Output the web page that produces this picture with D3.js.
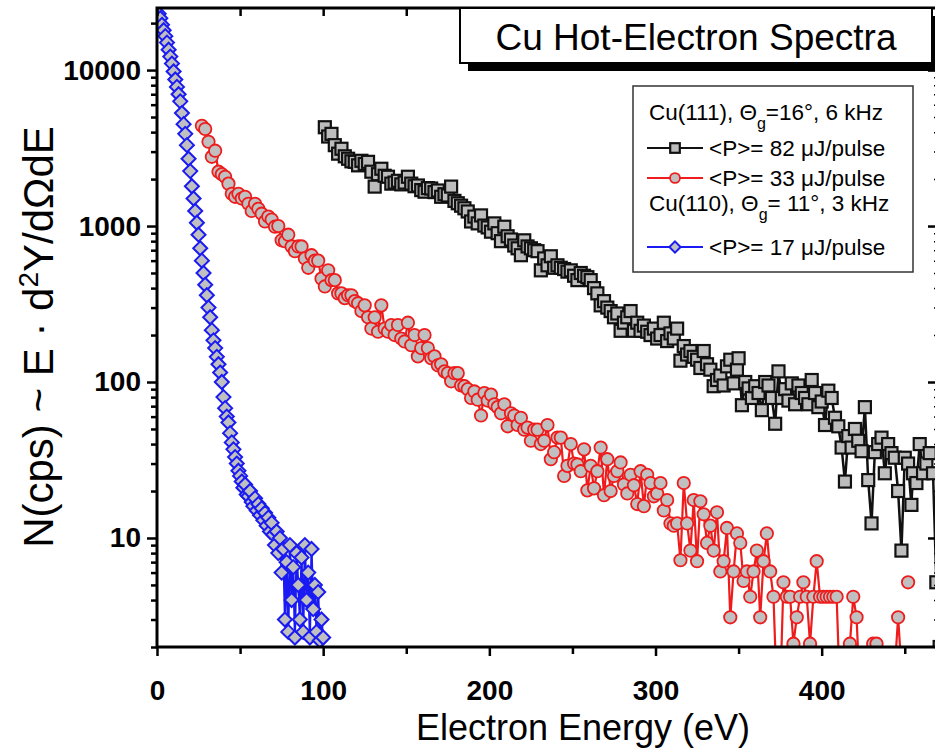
<!DOCTYPE html>
<html>
<head>
<meta charset="utf-8">
<script src="https://cdn.jsdelivr.net/npm/d3@7"></script>
<style>
body { margin: 0; background: #fff; }
svg { display: block; font-family: "Liberation Sans", Arial, sans-serif; }
</style>
</head>
<body>
<div id="chart"></div>
<script>
// Cu(110), 17 uJ/pulse  [energy eV, counts]
var cu110_17uJ = [[1,23000],[2,21500],[3,19500],[4,18000],[5,16500],[6,15000],[7,13500],[8,12200],[9,11000],[10,9800],
	[11,8700],[12,7800],[13,7000],[14,6300],[15,5300],[16,4500],[17,3900],[18,3300],[19,2700],[20,2250],
	[21,1800],[22,1500],[23,1250],[24,1050],[25,880],[26,720],[27,600],[28,500],[29,420],[30,360],
	[31,300],[32,260],[33,215],[34,185],[35,165],[36,145],[37,130],[38,115],[39,100],[40,80],
	[41,68],[42,60],[43,55],[44,47],[45,41],[46,37],[47,33],[48,30],[49,27],[50,25],
	[51,23],[52,21],[53,22],[54,19],[55,18.5],[56,20],[57,17],[58,16],[59,18],[60,15],
	[61,16.5],[62,14],[63,15.5],[64,13],[65,14.5],[66,12],[67,13.5],[68,11],[69,12.5],[70,10.5],
	[71,9],[72,11],[73,8],[74,10],[75,6],[76,8.5],[77,3],[78,7],[79,2.5],[80,9],
	[81,4],[82,6.5],[83,2.3],[84,8],[85,5],[86,3],[87,7.5],[88,2.5],[89,9],[90,4],
	[91,6],[92,2.3],[93,8.5],[94,3.5],[95,5],[96,2.5],[97,4.5],[98,2.2],[99,3],[100,2.3]];

// Cu(111), 33 uJ/pulse
var cu111_33uJ = [[27,4390],[29,4190],[31,3470],[33,2780],[35,3040],[37,2230],[39,2150],[41,2070],[43,1870],[45,1610],
	[47,1540],[49,1610],[51,1500],[53,1540],[55,1390],[57,1250],[59,1390],[61,1290],[63,1200],[65,1070],
	[67,1150],[69,1100],[71,990],[73,1000],[75,810],[77,800],[79,880],[81,740],[83,690],[85,740],
	[87,740],[89,620],[91,540],[93,650],[95,600],[97,600],[99,460],[101,410],[103,520],[105,450],
	[107,450],[109,370],[111,370],[113,345],[115,360],[117,360],[119,330],[121,320],[123,285],[125,310],
	[127,260],[129,220],[131,260],[133,210],[135,310],[137,220],[139,210],[141,232],[143,200],[145,232],
	[147,190],[149,182],[151,240],[153,172],[155,200],[157,146],[159,165],[161,200],[163,165],[165,142],
	[167,146],[169,128],[171,130],[173,117],[175,114],[177,101],[179,114],[181,114],[183,95],[185,94],
	[187,90],[189,79],[191,87],[193,77],[195,61],[197,85],[199,76],[201,83],[203,72],[205,69],
	[207,63],[209,72],[211,52],[213,63],[215,61],[217,53],[219,59],[221,49.5],[223,51],[225,42],
	[227,49.5],[229,49.5],[231,40],[233,42],[235,53],[237,32],[239,35.5],[241,44],[243,44],[245,25],
	[247,29],[249,40],[251,30],[253,29.6],[255,26.8],[257,37],[259,20.2],[261,29],[263,20.8],[265,26.8],
	[267,38],[269,18.8],[271,32],[273,20],[275,25],[277,26.8],[279,30.5],[281,22],[283,19.3],[285,25.4],
	[287,21.8],[289,16.5],[291,26.8],[293,16],[295,25.4],[297,22.5],[299,18.5],[301,19.3],[303,22.5],[305,15],
	[307,17.5],[309,12.4],[311,12],[313,12.4],[315,7.2],[317,22.5],[319,12.4],[321,8.3],[323,17.5],[325,7.1],
	[327,17.2],[329,14.2],[331,9.3],[333,12],[335,8.3],[337,14.6],[339,6.1],[341,7.1],[343,11.6],[345,3.1],
	[347,6.1],[349,10.7],[351,9.3],[353,5.3],[355,6.1],[357,4.2],[359,6.1],[361,8.3],[363,3.1],[365,7.1],
	[367,10.7],[369,6.1],[371,4.2],[373,1],[375,1],[377,5.2],[379,4.2],[381,4.2],[383,2.1],[385,3.1],
	[387,4.2],[389,5.2],[391,4.2],[393,2.1],[395,4.2],[397,7.1],[399,4.2],[401,4.2],[403,4.2],[405,4.2],
	[407,4.2],[409,4.2],[411,1],[413,1],[415,1],[417,2.1],[419,4.2],[421,3.1],[423,1],[425,1],
	[427,1],[429,1],[431,2.1],[433,2.1],[435,1],[437,1],[439,1],[441,1],[443,1],[446,3.1],
	[449,1],[450,0],[452,5.2]];

// Cu(111), 82 uJ/pulse
var cu111_82uJ = [[101,4300],[103,3750],[105,3900],[107,3300],[109,2910],[111,3130],[113,2800],[115,2700],[117,2600],[119,2580],
	[121,2450],[123,2620],[125,2500],[127,2580],[129,2230],[131,1790],[133,2150],[135,2330],[137,2100],[139,2070],
	[141,1870],[143,1900],[145,1950],[147,1850],[149,1900],[151,2070],[153,1870],[155,1800],[157,1820],[159,1700],
	[161,1660],[163,1750],[165,1740],[167,1650],[169,1690],[171,1540],[173,1600],[175,1570],[177,1790],[179,1450],
	[181,1400],[183,1350],[185,1300],[187,1240],[189,1070],[191,1150],[193,1040],[195,1170],[197,1007],[199,980],
	[201,920],[203,1040],[205,900],[207,800],[209,990],[211,860],[213,820],[215,750],[217,720],[219,650],
	[221,810],[223,740],[225,720],[227,700],[229,690],[231,520],[233,620],[235,560],[237,640],[239,540],
	[241,560],[243,540],[245,530],[247,510],[249,520],[251,480],[253,450],[255,500],[257,480],[259,470],
	[261,450],[263,400],[265,370],[267,310],[269,330],[271,300],[273,285],[275,260],[277,275],[279,213],
	[281,240],[283,260],[285,285],[287,213],[289,240],[291,213],[293,230],[295,210],[297,200],[299,220],
	[301,190],[303,200],[305,240],[307,183],[309,205],[311,190],[313,220],[315,137],[317,170],[319,150],
	[321,158],[323,145],[325,139],[327,123],[329,158],[331,130],[333,120],[335,94],[337,103],[339,110],
	[341,95],[343,126],[345,139],[347,98],[349,120],[350,142],[352,71],[354,100],[356,91],[358,79],
	[360,94],[362,85],[364,66],[366,100],[368,95],[370,79],[372,54],[374,117],[376,79],[378,90],
	[380,76],[382,98],[384,72],[386,95],[388,85],[390,79],[392,72],[394,103],[396,85],[398,69],
	[400,75],[402,53],[404,88],[406,79],[408,59],[410,52],[412,38],[414,23],[416,45],[418,38],
	[420,50],[422,42],[424,36],[426,69],[428,23.5],[430,12.4],[432,35.5],[434,40],[436,44],[438,26],
	[440,40],[442,35],[444,32.7],[446,20],[448,8.3],[450,32.7],[452,30],[454,16.3],[455,26],[457,22.5],
	[459,40],[461,26],[463,30],[465,35],[467,26],[469,5.2],[471,2]];

var xTicks = [0, 100, 200, 300, 400];
var xMinorTicks = [50, 150, 250, 350, 450];
var yTicks = [10, 100, 1000, 10000];

var W = 935, H = 749;
var plot = {left: 157, right: 938, top: 8, bottom: 647};

var svg = d3.select("#chart").append("svg")
	.attr("width", W)
	.attr("height", H);

var x = d3.scaleLinear().domain([0, 470]).range([plot.left, plot.right]);
var y = d3.scaleLog().domain([2, 25000]).range([plot.bottom, plot.top]);

svg.append("defs").append("clipPath")
	.attr("id", "clip")
	.append("rect")
	.attr("x", plot.left)
	.attr("y", plot.top)
	.attr("width", plot.right - plot.left)
	.attr("height", plot.bottom - plot.top);

var series = [
	{data: cu111_82uJ, color: "#111", shape: "square", width: 2.5, label: "<P>= 82 \u03bcJ/pulse"},
	{data: cu111_33uJ, color: "#ee1c1c", shape: "circle", width: 2.2, label: "<P>= 33 \u03bcJ/pulse"},
	{data: cu110_17uJ, color: "#1a1af2", shape: "diamond", width: 2.2, label: "<P>= 17 \u03bcJ/pulse"}
];

function drawMarker(g, shape, color, k) {
	k = k || 1;
	if (shape == "square") {
		g.append("rect").attr("x", -6 * k).attr("y", -6 * k).attr("width", 12 * k).attr("height", 12 * k)
			.attr("fill", "#bdbdbd").attr("stroke", color).attr("stroke-width", 2.2);
	} else if (shape == "circle") {
		g.append("circle").attr("r", 6.2 * k)
			.attr("fill", "#c0c0c0").attr("stroke", color).attr("stroke-width", 1.8);
	} else {
		var r = 7 * k;
		g.append("path").attr("d", "M0," + (-r) + "L" + r + ",0L0," + r + "L" + (-r) + ",0Z")
			.attr("fill", "#c0c0c0").attr("stroke", color).attr("stroke-width", 2);
	}
}

var dataLayer = svg.append("g").attr("clip-path", "url(#clip)");

var line = d3.line()
	.defined(function(d) { return d[1] > 0; })
	.x(function(d) { return x(d[0]); })
	.y(function(d) { return y(d[1]); });

series.forEach(function(s) {
	var g = dataLayer.append("g");
	g.append("path")
		.datum(s.data)
		.attr("d", line)
		.attr("fill", "none")
		.attr("stroke", s.color)
		.attr("stroke-width", s.width)
		.attr("stroke-linejoin", "round");
	g.selectAll(".pt")
		.data(s.data.filter(function(d) { return d[1] > 0; }))
		.enter().append("g")
		.attr("class", "pt")
		.attr("transform", function(d) { return "translate(" + x(d[0]) + "," + y(d[1]) + ")"; })
		.each(function() { drawMarker(d3.select(this), s.shape, s.color); });
});

// axes
var yMinor = [];
[1, 10, 100, 1000, 10000].forEach(function(dec) {
	for (var k = 2; k <= 9; k++) {
		if (dec * k >= 2 && dec * k <= 25000) yMinor.push(dec * k);
	}
});

function styleAxis(g) {
	g.select(".domain").remove();
	g.selectAll(".tick line").attr("stroke", "#000").attr("stroke-width", 2.5);
}

svg.append("g")
	.attr("transform", "translate(0," + plot.bottom + ")")
	.call(d3.axisBottom(x).tickValues(xTicks).tickSize(9).tickSizeOuter(0).tickPadding(24).tickFormat(d3.format("d")))
	.call(styleAxis)
	.selectAll("text")
	.attr("font-family", "Liberation Sans, Arial, sans-serif")
	.attr("font-weight", "bold")
	.attr("font-size", 28)
	.attr("fill", "#000");

svg.append("g")
	.attr("transform", "translate(0," + plot.bottom + ")")
	.call(d3.axisBottom(x).tickValues(xMinorTicks).tickSize(7).tickFormat(""))
	.call(styleAxis);

svg.append("g")
	.attr("transform", "translate(" + plot.left + ",0)")
	.call(d3.axisLeft(y).tickValues(yTicks).tickSize(10).tickPadding(6).tickFormat(d3.format("d")))
	.call(styleAxis)
	.selectAll("text")
	.attr("font-family", "Liberation Sans, Arial, sans-serif")
	.attr("font-weight", "bold")
	.attr("font-size", 28)
	.attr("fill", "#000");

svg.append("g")
	.attr("transform", "translate(" + plot.left + ",0)")
	.call(d3.axisLeft(y).tickValues(yMinor).tickSize(6).tickFormat(""))
	.call(styleAxis);

// mirrored axes, ticks pointing inward
svg.append("g")
	.attr("transform", "translate(0," + plot.top + ")")
	.call(d3.axisTop(x).tickValues(xTicks.concat(xMinorTicks)).tickSize(-8).tickFormat(""))
	.call(styleAxis);

svg.append("g")
	.attr("transform", "translate(" + plot.right + ",0)")
	.call(d3.axisRight(y).tickValues(yTicks).tickSize(-10).tickFormat(""))
	.call(styleAxis);
svg.append("g")
	.attr("transform", "translate(" + plot.right + ",0)")
	.call(d3.axisRight(y).tickValues(yMinor).tickSize(-6).tickFormat(""))
	.call(styleAxis)
	.selectAll(".tick line").attr("stroke-width", 1.5).attr("stroke-dasharray", "1,2");

svg.append("rect")
	.attr("x", plot.left)
	.attr("y", plot.top)
	.attr("width", plot.right - plot.left)
	.attr("height", plot.bottom - plot.top)
	.attr("fill", "none")
	.attr("stroke", "#000")
	.attr("stroke-width", 3);

// axis titles
svg.append("text")
	.attr("x", 583)
	.attr("y", 740)
	.attr("text-anchor", "middle")
	.attr("font-size", 36)
	.text("Electron Energy (eV)");

var yTitle = svg.append("text")
	.attr("transform", "translate(53,337) rotate(-90)")
	.attr("text-anchor", "middle")
	.attr("font-size", 42);
yTitle.append("tspan").text("N(cps) ~ E \u00b7 d");
yTitle.append("tspan").attr("baseline-shift", "super").attr("font-size", 28).text("2");
yTitle.append("tspan").text("Y/d\u03a9dE");

// title box with shadow
svg.append("rect")
	.attr("x", 468).attr("y", 16).attr("width", 472).attr("height", 55)
	.attr("fill", "#000");
svg.append("rect")
	.attr("x", 460).attr("y", 8).attr("width", 472).attr("height", 55)
	.attr("fill", "#fff").attr("stroke", "#000").attr("stroke-width", 2);
svg.append("text")
	.attr("x", 696).attr("y", 50)
	.attr("text-anchor", "middle")
	.attr("font-size", 37)
	.text("Cu Hot-Electron Spectra");

// legend
var legend = svg.append("g");
legend.append("rect")
	.attr("x", 633).attr("y", 86).attr("width", 280).attr("height", 186)
	.attr("fill", "#fff").attr("stroke", "#333").attr("stroke-width", 1.5);

function headerRow(yy, pre, post) {
	var t = legend.append("text").attr("x", 649).attr("y", yy).attr("font-size", 22.5);
	t.append("tspan").text(pre);
	t.append("tspan").attr("baseline-shift", "sub").attr("font-size", 16).text("g");
	t.append("tspan").text(post);
}
headerRow(120, "Cu(111), \u0398", "=16\u00b0, 6 kHz");
headerRow(211, "Cu(110), \u0398", "= 11\u00b0, 3 kHz");

var legendRows = [{s: series[0], y: 148}, {s: series[1], y: 178}, {s: series[2], y: 247}];
legendRows.forEach(function(r) {
	legend.append("line")
		.attr("x1", 647).attr("x2", 703).attr("y1", r.y).attr("y2", r.y)
		.attr("stroke", r.s.color).attr("stroke-width", 2.2);
	var m = legend.append("g").attr("transform", "translate(675," + r.y + ")");
	drawMarker(m, r.s.shape, r.s.color, 0.8);
	legend.append("text")
		.attr("x", 709).attr("y", r.y + 8)
		.attr("font-size", 22.5)
		.text(r.s.label);
});
</script>
</body>
</html>
